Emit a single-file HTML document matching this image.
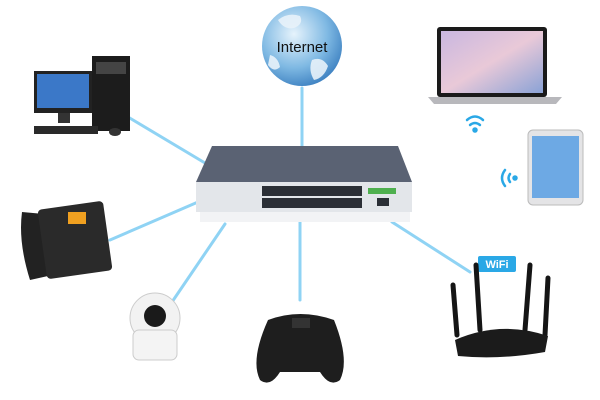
<!DOCTYPE html>
<html><head><style>body{margin:0;background:#fff}svg{display:block}</style></head><body>
<svg width="600" height="400" viewBox="0 0 600 400" xmlns="http://www.w3.org/2000/svg" font-family="Liberation Sans, sans-serif">
<defs>
<radialGradient id="g" cx="40%" cy="35%" r="70%"><stop offset="0" stop-color="#e6f3fc"/><stop offset="0.6" stop-color="#7fb9e3"/><stop offset="1" stop-color="#3b7fc0"/></radialGradient>
<linearGradient id="ln" x1="0" y1="0" x2="0" y2="1"><stop offset="0" stop-color="#7ccbf0"/><stop offset="1" stop-color="#bfe6f8"/></linearGradient>
<linearGradient id="scr" x1="0" y1="0" x2="1" y2="1"><stop offset="0" stop-color="#c9b7e0"/><stop offset="0.5" stop-color="#e9c9d8"/><stop offset="1" stop-color="#8aa2d6"/></linearGradient>
</defs>
<g stroke="#8fd3f4" stroke-width="3" fill="none" stroke-linecap="round">
<line x1="302" y1="88" x2="302" y2="148"/>
<line x1="128" y1="117" x2="205" y2="163"/>
<line x1="110" y1="240" x2="198" y2="202"/>
<line x1="172" y1="302" x2="225" y2="224"/>
<line x1="300" y1="300" x2="300" y2="222"/>
<line x1="392" y1="222" x2="470" y2="272"/>
</g>
<!-- globe -->
<circle cx="302" cy="46" r="40" fill="url(#g)"/>
<path d="M278 20 q10 -8 22 -4 q4 8 -6 12 q-10 2 -16 -8z M312 60 q10 -4 16 6 q-4 12 -14 14 q-6 -10 -2 -20z M270 55 q8 2 10 12 q-6 6 -12 -2z" fill="#e8f2fa" opacity="0.9"/>
<text x="302" y="52" font-size="15" text-anchor="middle" fill="#111">Internet</text>
<!-- desktop -->
<rect x="34" y="71" width="58" height="42" fill="#222"/>
<rect x="37" y="74" width="52" height="34" fill="#3b78c8"/>
<rect x="58" y="113" width="12" height="10" fill="#333"/>
<rect x="92" y="56" width="38" height="75" fill="#1c1c1c"/>
<rect x="96" y="62" width="30" height="12" fill="#444"/>
<rect x="34" y="126" width="64" height="8" fill="#2a2a2a"/>
<ellipse cx="115" cy="132" rx="6" ry="4" fill="#333"/>
<!-- laptop -->
<rect x="437" y="27" width="110" height="70" rx="3" fill="#1a1a1a"/>
<rect x="441" y="31" width="102" height="62" fill="url(#scr)"/>
<path d="M428 97 H562 L556 104 H434Z" fill="#b8b8bc"/>
<!-- wifi icons -->
<g fill="none" stroke="#2aa8e6" stroke-width="2.5" stroke-linecap="round">
<path d="M467 120 q8 -7 16 0 M470 125 q5 -4 10 0"/><circle cx="475" cy="130" r="1.5" fill="#2aa8e6"/>
<path d="M505 170 q-6 8 0 16 M510 174 q-3 4 0 8"/><circle cx="515" cy="178" r="1.5" fill="#2aa8e6"/>
</g>
<!-- tablet -->
<rect x="528" y="130" width="55" height="75" rx="5" fill="#e4e4e6" stroke="#bbb"/>
<rect x="532" y="136" width="47" height="62" fill="#6da9e4"/>
<!-- switch -->
<path d="M212 146 H398 L412 182 H196Z" fill="#5a6273"/>
<rect x="196" y="182" width="216" height="30" fill="#e3e6ea"/>
<g fill="#2b2f36">
<rect x="262" y="186" width="100" height="10"/><rect x="262" y="198" width="100" height="10"/>
<rect x="377" y="198" width="12" height="8"/>
</g>
<rect x="368" y="188" width="28" height="6" fill="#4fb04f"/>
<rect x="200" y="212" width="210" height="10" fill="#f2f3f5"/>
<!-- phone -->
<path d="M22 212 q-4 30 8 68 l18 -4 q-6 -30 -4 -62z" fill="#222"/>
<rect x="42" y="205" width="66" height="70" rx="4" fill="#2a2a2a" transform="rotate(-8 75 240)"/>
<rect x="68" y="212" width="18" height="12" fill="#f0a020"/>
<!-- camera -->
<circle cx="155" cy="318" r="25" fill="#f2f2f2" stroke="#ccc"/>
<rect x="133" y="330" width="44" height="30" rx="6" fill="#f4f4f4" stroke="#ccc"/>
<circle cx="155" cy="316" r="11" fill="#1a1a1a"/>
<!-- gamepad -->
<path d="M268 320 Q300 308 334 320 Q350 360 340 380 Q330 388 320 372 H280 Q270 388 260 380 Q250 360 268 320Z" fill="#1e1e1e"/>
<rect x="292" y="318" width="18" height="10" fill="#333"/>
<!-- router -->
<rect x="478" y="256" width="38" height="16" rx="2" fill="#2aa8e6"/>
<text x="497" y="268" font-size="11" font-weight="bold" fill="#fff" text-anchor="middle">WiFi</text>
<g stroke="#151515" stroke-width="5" stroke-linecap="round">
<line x1="457" y1="335" x2="453" y2="285"/><line x1="480" y1="330" x2="476" y2="265"/>
<line x1="525" y1="330" x2="530" y2="265"/><line x1="545" y1="335" x2="548" y2="278"/>
</g>
<path d="M455 340 Q500 320 548 336 L545 352 Q500 360 458 356Z" fill="#1b1b1b"/>
</svg>
</body></html>
